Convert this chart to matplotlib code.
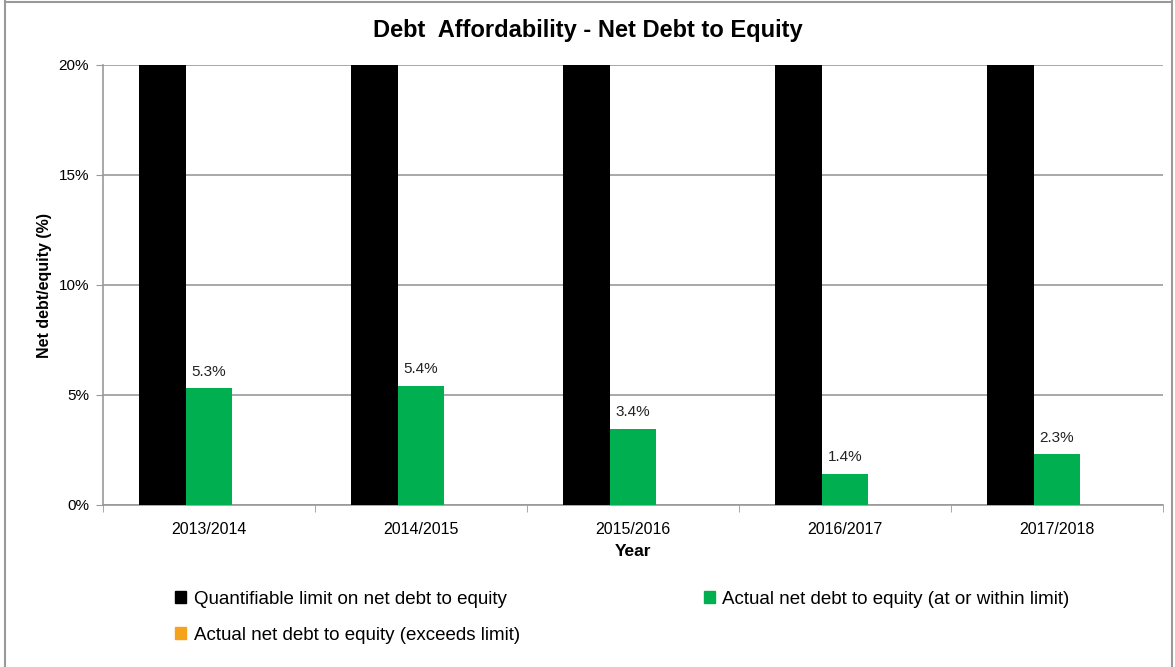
import matplotlib
matplotlib.use("Agg")
import matplotlib.pyplot as plt
from matplotlib.lines import Line2D
from matplotlib.patches import Patch
import numpy as np

years = ["2013/2014", "2014/2015", "2015/2016", "2016/2017", "2017/2018"]
limit = [20, 20, 20, 20, 20]
within = [5.3, 5.4, 3.45, 1.4, 2.3]
within_labels = ["5.3%", "5.4%", "3.4%", "1.4%", "2.3%"]
exceeds = [0, 0, 0, 0, 0]

series_names = [
    "Quantifiable limit on net debt to equity",
    "Actual net debt to equity (at or within limit)",
    "Actual net debt to equity (exceeds limit)",
]
colors = ["#000000", "#00B050", "#F5A31A"]


def main():
    plt.rcParams["font.family"] = ["Liberation Sans", "DejaVu Sans"]

    fig = plt.figure(figsize=(11.75, 6.67), dpi=100)
    ax = fig.add_axes([103 / 1175, 162 / 667, 1060 / 1175, 440 / 667])

    x = np.arange(len(years))
    w = 0.22
    ax.bar(x - w, limit, w, color=colors[0], zorder=3)
    bars = ax.bar(x, within, w, color=colors[1], zorder=3)
    ax.bar(x + w, exceeds, w, color=colors[2], zorder=3)

    # data labels on the green bars
    for b, lab in zip(bars, within_labels):
        ax.text(b.get_x() + b.get_width() / 2, b.get_height() + 0.45, lab,
                ha="center", va="bottom", fontsize=11, color="#222222")

    ax.set_xlim(-0.5, len(years) - 0.5)
    ax.set_ylim(0, 20)
    ax.set_yticks([0, 5, 10, 15, 20])
    ax.set_yticklabels(["0%", "5%", "10%", "15%", "20%"], fontsize=11)
    ax.set_xticks(x)
    ax.set_xticklabels(years, fontsize=11.5)
    ax.set_xticks(np.arange(len(years) + 1) - 0.5, minor=True)
    ax.tick_params(axis="x", which="major", length=0, pad=12)
    ax.tick_params(axis="x", which="minor", length=5, color="#999999")
    ax.tick_params(axis="y", length=5, color="#999999", pad=5)

    ax.grid(axis="y", color="#999999", linewidth=1.2, zorder=0)
    for s in ["top", "right"]:
        ax.spines[s].set_visible(False)
    for s in ["left", "bottom"]:
        ax.spines[s].set_color("#999999")
        ax.spines[s].set_linewidth(1.2)

    ax.set_xlabel("Year", fontsize=12.5, fontweight="bold", labelpad=5)
    ax.set_ylabel("Net debt/equity (%)", fontsize=11.5, fontweight="bold", labelpad=5)
    fig.text(0.5, 1 - 30 / 667, "Debt  Affordability - Net Debt to Equity",
             ha="center", va="center", fontsize=17, fontweight="bold")

    # legend: row-major order for two columns
    handles = [Patch(color=colors[0]), Patch(color=colors[2]), Patch(color=colors[1])]
    labels = [series_names[0], series_names[2], series_names[1]]
    fig.legend(handles, labels, ncol=2, loc="upper left",
               bbox_to_anchor=(158 / 1175, 1 - 574 / 667), frameon=False,
               fontsize=13.5, handlelength=0.6, handleheight=0.6,
               handletextpad=0.4, columnspacing=9.8, labelspacing=1.0)

    # outer chart border
    for xs, ys in [([5, 5], [0, 667]), ([5, 1172], [1.5, 1.5]), ([1172, 1172], [0, 667])]:
        fig.add_artist(Line2D([v / 1175 for v in xs], [1 - v / 667 for v in ys],
                              color="#999999", linewidth=1.5))

    fig.savefig("out.png", dpi=100)


if __name__ == "__main__":
    main()
